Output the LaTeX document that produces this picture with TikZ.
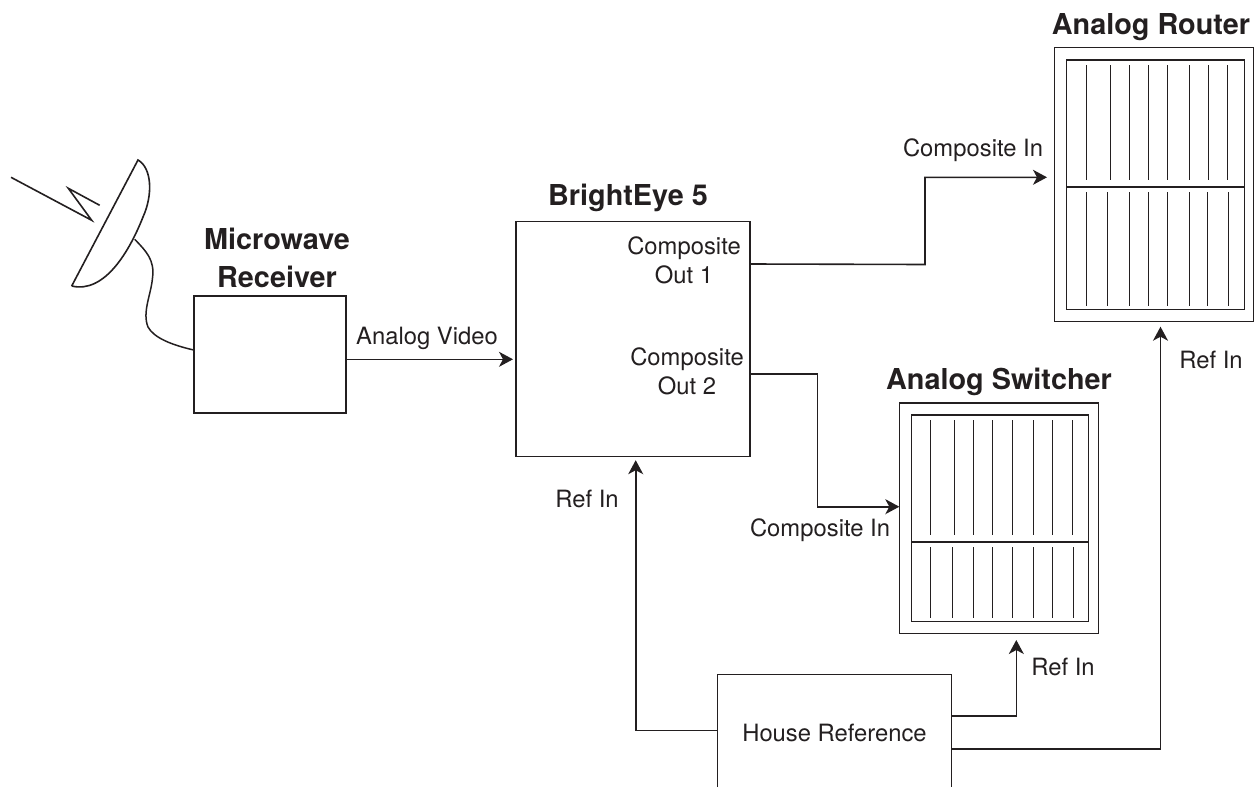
\documentclass[tikz,border=0pt]{standalone}
\usepackage{fontspec}
\setmainfont{TeX Gyre Heros}
\usetikzlibrary{arrows.meta}
\definecolor{inkdark}{HTML}{231F20}
\begin{document}
\begin{tikzpicture}[x=1pt,y=-1pt,color=inkdark,line width=1.3pt,
   box/.style={draw,outer sep=0pt,inner sep=0pt,align=center},
   title/.style={inner sep=0pt,align=center,font=\fontsize{28.8}{38}\selectfont\bfseries},
   lbl/.style={inner sep=0pt,align=center,font=\fontsize{23.8}{29}\selectfont},
   wire/.style={-{Stealth[length=14pt,width=15pt,inset=4pt]},line width=1.6pt},
   slat/.style={line width=1pt}]
  \useasboundingbox (0,0) rectangle (1258,787);
  % dish and cable
  \draw[line width=1.6pt,line join=miter] (11,177.3) -- (91.7,220.3) -- (68.3,188.3) -- (99.7,205.3);
  \draw[line width=1.6pt] (71.7,286) -- (138,160) .. controls (152,168) and (153,195) .. (143,217)
     .. controls (130,250) and (105,294) .. (71.7,286);
  \draw[line width=1.5pt] (134.7,239.3) .. controls (146,251) and (155,260) .. (152.5,278)
     .. controls (151,295) and (142,312) .. (148,327) .. controls (154,338) and (172,345) .. (193.7,350);
  % boxes
  \node[box,line width=2pt,minimum width=152.3,minimum height=117.6] (rx) at (269.8,354.5) {};
  \node[box,minimum width=234,minimum height=235] (be) at (633,339.2) {};
  \node[box,minimum width=199,minimum height=274] (router) at (1154,184.7) {};
  \node[box,minimum width=177.6,minimum height=249.3] (routerin) at (1155.5,184.7) {};
  \node[box,minimum width=199,minimum height=230.3] (switcher) at (998.8,518.2) {};
  \node[box,minimum width=177,minimum height=206.3] (switcherin) at (999.8,518.2) {};
  \node[lbl,minimum width=233,minimum height=116] (house) at (834.5,733) {House Reference};
  \draw (house.west |- 0,787) |- (house.north east) -- (house.east |- 0,787);
  % titles
  \node[title] (rxtitle) at (277,258) {Microwave\\Receiver};
  \node[title] (betitle) at (628,198) {BrightEye 5};
  \node[title] (routertitle) at (1151,27.5) {Analog Router};
  \node[title] (switchertitle) at (999,381.5) {Analog Switcher};
  % slats
  \draw (routerin.west |- 0,187) -- (routerin.east |- 0,187);
  \draw (switcherin.west |- 0,542) -- (switcherin.east |- 0,542);
  \foreach \x in {1086,1110,1129,1148.3,1167.3,1189,1208.3,1227.7}
    \draw[slat] (\x,65) -- (\x,180);
  \foreach \x in {1086,1107.7,1129,1148.3,1167.3,1189,1207.7,1228.7}
    \draw[slat] (\x,192) -- (\x,306);
  \foreach \x in {930.7,954.3,973.7,992.7,1012,1033.7,1052.7,1072}
    \draw[slat] (\x,420) -- (\x,535);
  \foreach \x in {930.7,952,973.7,992.7,1012,1033.7,1052,1073}
    \draw[slat] (\x,547.3) -- (\x,618.3);
  % labels
  \node[lbl] (lvideo) at (427,338) {Analog Video};
  \node[lbl] (lout1) at (684,260) {Composite\\Out 1};
  \node[lbl] (lout2) at (687,371) {Composite\\Out 2};
  \node[lbl] (lin1) at (973,150) {Composite In};
  \node[lbl] (lin2) at (820,530) {Composite In};
  \node[lbl] (lref1) at (587,499) {Ref In};
  \node[lbl] (lref2) at (1063,667) {Ref In};
  \node[lbl] (lref3) at (1211,360) {Ref In};
  % wires
  \draw[wire,shorten >=3pt] (rx.east |- 0,359.3) -- (be.west |- 0,359.3);
  \draw[wire,shorten >=7.5pt] (be.east |- 0,264) -- (925,264.5) |- (router.west |- 0,177.3);
  \draw[wire] (be.east |- 0,374) -- (817.3,374) |- (switcher.west |- 0,506.7);
  \draw[wire,shorten >=3.5pt] (house.west |- 0,730.5) -- (635.7,730.5) -- (635.7,456.7);
  \draw[wire] (house.east |- 0,716) -| (1016.3,640);
  \draw[wire] (house.east |- 0,749) -| (1160.5,326.7);
\end{tikzpicture}
\end{document}
